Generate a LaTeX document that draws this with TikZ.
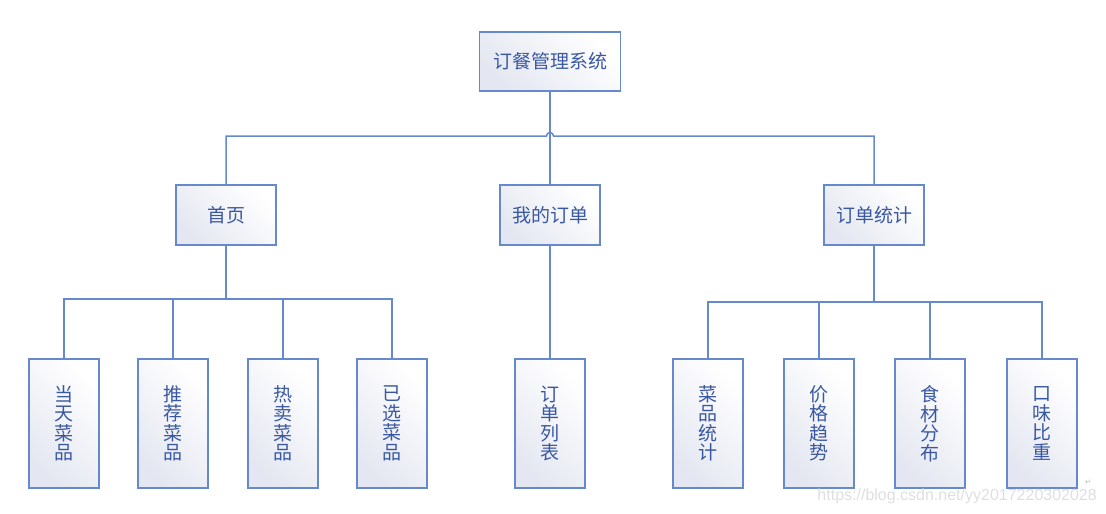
\documentclass[tikz,border=0pt]{standalone}
\usepackage{fontspec}
\setmainfont{Noto Sans CJK SC}
\newfontfamily\markfont{Liberation Sans}
\newfontfamily\symfont{DejaVu Sans}
\usepackage{tikz}
\usetikzlibrary{calc}

\definecolor{linea}{HTML}{6688CC}
\definecolor{texto}{HTML}{3A58A2}
\definecolor{fondo}{HTML}{E4E7F1}

\begin{document}
\begin{tikzpicture}[
        x=1pt, y=-1pt, % 1 px del dibujo = 1 pt
        font=\fontsize{19}{19.5}\selectfont, % tamaño de los caracteres
        % --- estilos ---
        modulo/.style={draw=linea, line width=1.5pt, text=texto,
            left color=fondo, right color=white, shading angle=135,
            minimum width=100pt, minimum height=60pt, inner sep=0pt},
        hoja/.style={modulo, minimum width=70pt, minimum height=129pt,
            align=center},
        enlace/.style={draw=linea, line width=1.5pt},
    ]
        \useasboundingbox (0,0) rectangle (1106,514);

        % --- 1. sistema y módulos principales ---
        \node[modulo, minimum width=141pt, minimum height=59pt]
            (sistema) at (550,61.5) {订餐管理系统};
        \node[modulo] (inicio) at (226,215) {首页};
        \node[modulo] (pedidos) at (550,215) {我的订单};
        \node[modulo] (estad) at (874,215) {订单统计};

        % --- 2. hojas (texto vertical) ---
        \foreach \i/\x/\t in {1/64/{当\\天\\菜\\品}, 2/173/{推\\荐\\菜\\品},
                3/283/{热\\卖\\菜\\品}, 4/392/{已\\选\\菜\\品}} {
            \node[hoja] (ini\i) at (\x,423.5) {\t};
        }
        \node[hoja] (lista) at (550,423.5) {订\\单\\列\\表};
        \foreach \i/\x/\t in {1/708/{菜\\品\\统\\计}, 2/819/{价\\格\\趋\\势},
                3/930/{食\\材\\分\\布}, 4/1042/{口\\味\\比\\重}} {
            \node[hoja] (est\i) at (\x,423.5) {\t};
        }

        % --- 3. conexiones ---
        \coordinate (salto) at (550,136);
        \draw[enlace] (inicio.north) |- ($(salto)+(-3.5,0)$)
            arc (180:0:3.5pt) -| (estad.north);
        \draw[enlace] (sistema.south) -- (pedidos.north);
        \draw[enlace] (pedidos.south) -- (lista.north);

        \coordinate (busI) at (226,299);
        \draw[enlace] (inicio.south) -- (busI);
        \foreach \i in {1,...,4} {
            \draw[enlace] (ini\i.north) |- (busI);
        }
        \coordinate (busE) at (874,302);
        \draw[enlace] (estad.south) -- (busE);
        \foreach \i in {1,...,4} {
            \draw[enlace] (est\i.north) |- (busE);
        }

        % --- 4. marca de agua ---
        \node[gray!25, font=\fontsize{16}{16}\selectfont\markfont, anchor=east,
            inner sep=0pt] (marca) at (1097,496)
            {https://blog.csdn.net/yy2017220302028};
        \node[gray!60, font=\fontsize{7}{7}\selectfont\symfont, inner sep=0pt]
            (retorno) at (1088,482) {↵};
    \end{tikzpicture}
\end{document}
